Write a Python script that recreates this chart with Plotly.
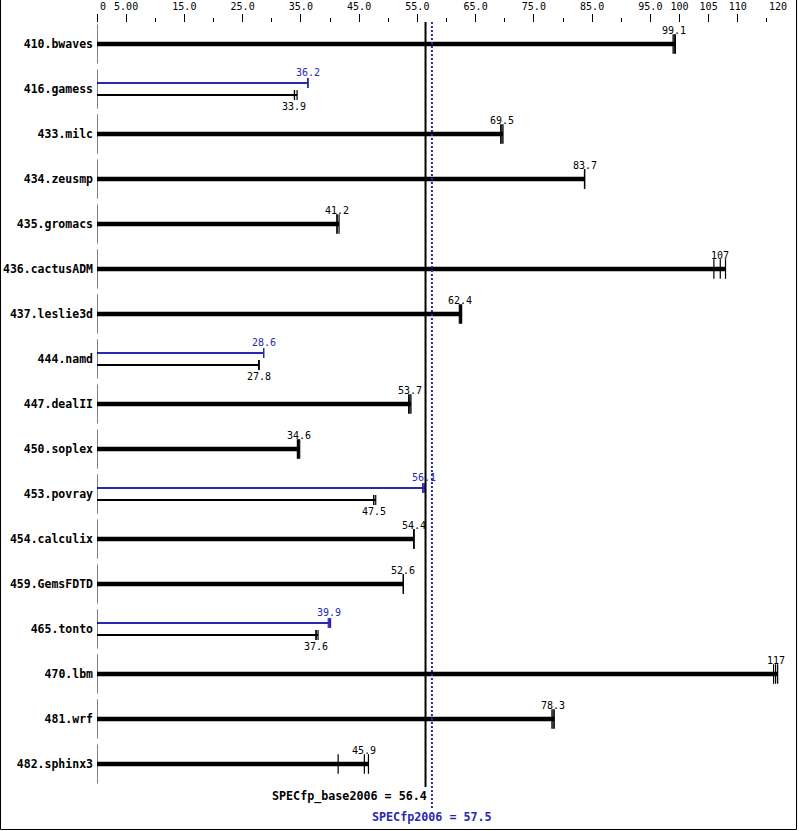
import plotly.graph_objects as go

# ---------------- data ----------------
benchmarks = ["410.bwaves", "416.gamess", "433.milc", "434.zeusmp", "435.gromacs",
              "436.cactusADM", "437.leslie3d", "444.namd", "447.dealII", "450.soplex",
              "453.povray", "454.calculix", "459.GemsFDTD", "465.tonto", "470.lbm",
              "481.wrf", "482.sphinx3"]
base_ratio = [99.1, 33.9, 69.5, 83.7, 41.2, 107, 62.4, 27.8, 53.7, 34.6,
              47.5, 54.4, 52.6, 37.6, 117, 78.3, 45.9]
base_runs = [
    [98.9, 99.1, 99.3], [33.9, 33.9, 34.35], [69.3, 69.5, 69.7], [83.7, 83.7, 83.7],
    [41.2, 41.2, 41.55], [105.9, 107.0, 107.9], [62.2, 62.4, 62.6], [27.8, 27.8, 27.8],
    [53.5, 53.7, 53.9], [34.4, 34.6, 34.8], [47.5, 47.5, 47.85], [54.4, 54.4, 54.4],
    [52.6, 52.6, 52.6], [37.6, 37.6, 37.95], [116.15, 116.5, 116.85], [78.1, 78.3, 78.5],
    [41.4, 45.9, 46.6]]
peak_ratio = {"416.gamess": 36.2, "444.namd": 28.6, "453.povray": 56.1, "465.tonto": 39.9}
peak_runs = {"416.gamess": [36.2, 36.2, 36.2], "444.namd": [28.6, 28.6, 28.6],
             "453.povray": [55.9, 56.1, 56.3], "465.tonto": [39.7, 39.9, 40.1]}
specfp_base = 56.4
specfp_peak = 57.5
major_ticks = [0, 5, 15, 25, 35, 45, 55, 65, 75, 85, 95, 100, 105, 110, 120]
major_text = ["\u00a0\u00a00", "5.00", "15.0", "25.0", "35.0", "45.0", "55.0", "65.0",
              "75.0", "85.0", "95.0", "100", "105", "110", ""]
last_tick_label = "120"
minor_ticks = [10, 20, 30, 40, 50, 60, 70, 80, 90, 115]

# ---------------- style ----------------
W, H = 799, 831
ROW0, ROWH = 44, 45          # pixel centre of first row, row pitch
AXIS_Y = 22                  # pixel of top axis
X0_PX, X1_PX = 97, 796
BLUE = "#2828b4"
MONO = "DejaVu Sans Mono"

n = len(benchmarks)
y_top = -ROW0 / ROWH
y_bot = (H - ROW0) / ROWH
px = 1.0 / ROWH              # one pixel in row units

fig = go.Figure()

single = [i for i, b in enumerate(benchmarks) if b not in peak_ratio]
dual = [i for i, b in enumerate(benchmarks) if b in peak_ratio]

fig.add_trace(go.Bar(
    orientation="h", y=single, x=[max(base_runs[i]) for i in single],
    width=4.5 * px, marker=dict(color="black", line=dict(width=0)),
    hoverinfo="skip", showlegend=False))
fig.add_trace(go.Bar(
    orientation="h", y=dual, x=[max(peak_runs[benchmarks[i]]) for i in dual],
    width=2 * px, offset=-7 * px, marker=dict(color=BLUE, line=dict(width=0)),
    hoverinfo="skip", showlegend=False))
fig.add_trace(go.Bar(
    orientation="h", y=dual, x=[max(base_runs[i]) for i in dual],
    width=2 * px, offset=5 * px, marker=dict(color="black", line=dict(width=0)),
    hoverinfo="skip", showlegend=False))


def tick_trace(xs, ys, size, color, lw=1):
    return go.Scatter(x=xs, y=ys, mode="markers",
                      marker=dict(symbol="line-ns", size=size,
                                  line=dict(width=lw, color=color), color=color),
                      hoverinfo="skip", showlegend=False)


sx, sy = [], []
for i in single:
    for r in base_runs[i]:
        sx.append(r); sy.append(i)
fig.add_trace(tick_trace(sx, sy, 14, "black", 1.2))

px_, py_, bx_, by_ = [], [], [], []
for i in dual:
    for r in peak_runs[benchmarks[i]]:
        px_.append(r); py_.append(i - 6 * px)
    for r in base_runs[i]:
        bx_.append(r); by_.append(i + 6 * px)
fig.add_trace(tick_trace(px_, py_, 7, BLUE, 1.2))
fig.add_trace(tick_trace(bx_, by_, 7, "black", 1.2))

fig.add_trace(tick_trace([0] * n, list(range(n)), 28, "black"))


def med(v):
    return sorted(v)[len(v) // 2]


def fmt(v):
    return f"{v:.3g}" if v >= 100 else f"{v:.1f}"


annotations = []
for i, b in enumerate(benchmarks):
    if b in peak_ratio:
        annotations.append(dict(x=med(peak_runs[b]), y=i, xref="x", yref="y",
                                text=fmt(peak_ratio[b]), showarrow=False, yshift=17,
                                font=dict(family=MONO, size=10, color=BLUE)))
        annotations.append(dict(x=med(base_runs[i]), y=i, xref="x", yref="y",
                                text=fmt(base_ratio[i]), showarrow=False, yshift=-17,
                                font=dict(family=MONO, size=10, color="black")))
    else:
        annotations.append(dict(x=med(base_runs[i]), y=i, xref="x", yref="y",
                                text=fmt(base_ratio[i]), showarrow=False, yshift=14,
                                font=dict(family=MONO, size=10, color="black")))

annotations.append(dict(x=specfp_base, y=1 - 796 / H, xref="x", yref="paper",
                        text=f"SPECfp_base2006 = {specfp_base}", showarrow=False,
                        xanchor="right", yanchor="middle", xshift=3,
                        font=dict(family=MONO, size=11.7, color="black", weight="bold")))
annotations.append(dict(x=specfp_peak, y=1 - 817 / H, xref="x", yref="paper",
                        text=f"SPECfp2006 = {specfp_peak}", showarrow=False,
                        xanchor="center", yanchor="middle",
                        font=dict(family=MONO, size=11.7, color=BLUE, weight="bold")))
annotations.append(dict(x=major_ticks[-1], y=1 - 7 / H, xref="x", yref="paper",
                        text=last_tick_label, showarrow=False,
                        xanchor="right", yanchor="middle", xshift=-7,
                        font=dict(family=MONO, size=10, color="black")))

shapes = [
    dict(type="line", xref="x", yref="paper", x0=specfp_base, x1=specfp_base,
         y0=1 - AXIS_Y / H, y1=1 - 787 / H, line=dict(color="black", width=2)),
    dict(type="line", xref="x", yref="paper", x0=specfp_peak, x1=specfp_peak,
         y0=1 - AXIS_Y / H, y1=1 - 808 / H, line=dict(color=BLUE, width=2, dash="2px,2px")),
    dict(type="rect", xref="paper", yref="paper", x0=0.5 / W, x1=796.5 / W,
         y0=1.5 / H, y1=1 + 2 / H, line=dict(color="black", width=1)),
]

fig.update_layout(
    width=W, height=H, margin=dict(l=0, r=0, t=0, b=0, autoexpand=False),
    paper_bgcolor="white", plot_bgcolor="white", barmode="overlay",
    showlegend=False, annotations=annotations, shapes=shapes,
    xaxis=dict(domain=[X0_PX / W, X1_PX / W], range=[0, 120], side="top",
               anchor="free", position=1 - AXIS_Y / H, automargin=False,
               tickmode="array", tickvals=major_ticks, ticktext=major_text,
               ticks="outside", ticklen=8, tickwidth=1, tickcolor="black",
               ticklabeloverflow="allow",
               minor=dict(tickmode="array", tickvals=minor_ticks, ticks="outside",
                          ticklen=4, tickwidth=1, tickcolor="black", showgrid=False),
               showgrid=False, zeroline=False, showline=False,
               tickfont=dict(family=MONO, size=10, color="black")),
    yaxis=dict(domain=[0, 1], range=[y_bot, y_top], tickmode="array", automargin=False,
               tickvals=list(range(n)), ticktext=benchmarks, ticks="",
               showgrid=False, zeroline=False, showline=False, ticklabelstandoff=3,
               tickfont=dict(family=MONO, size=11.5, color="black", weight="bold")),
)

fig.write_html("out.html", config={"displayModeBar": False},
               post_script="document.body.style.margin='0';"
                           "document.documentElement.style.overflow='hidden';")
